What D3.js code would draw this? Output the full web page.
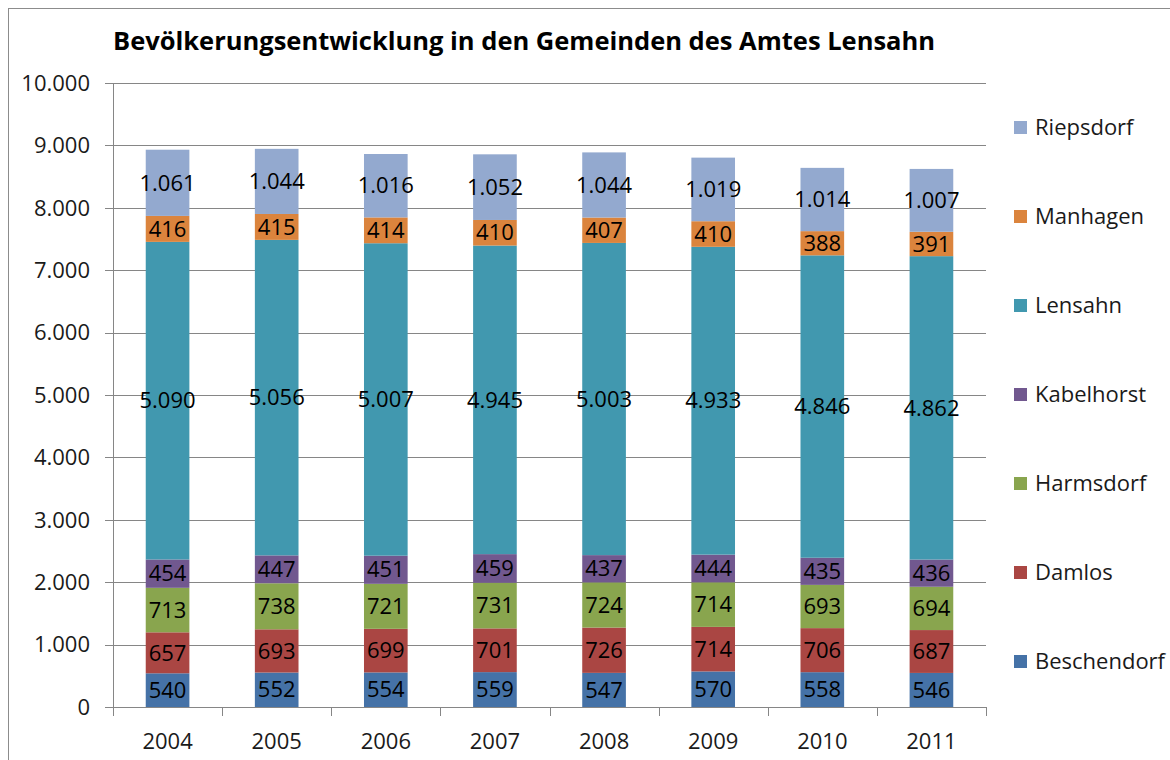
<!DOCTYPE html>
<html>
<head>
<meta charset="utf-8">
<script src="https://cdn.jsdelivr.net/npm/d3@7"></script>
<style>
	body { margin: 0; background: #fff; }
	svg { display: block; font-family: 'Open Sans', 'Noto Sans', sans-serif; }
</style>
</head>
<body>
<svg id="chart" width="1170" height="760"></svg>
<script>
// values
const years = ['2004', '2005', '2006', '2007', '2008', '2009', '2010', '2011']
const beschendorf = [540, 552, 554, 559, 547, 570, 558, 546]
const damlos = [657, 693, 699, 701, 726, 714, 706, 687]
const harmsdorf = [713, 738, 721, 731, 724, 714, 693, 694]
const kabelhorst = [454, 447, 451, 459, 437, 444, 435, 436]
const lensahn = [5090, 5056, 5007, 4945, 5003, 4933, 4846, 4862]
const manhagen = [416, 415, 414, 410, 407, 410, 388, 391]
const riepsdorf = [1061, 1044, 1016, 1052, 1044, 1019, 1014, 1007]
const yTicks = [0, 1000, 2000, 3000, 4000, 5000, 6000, 7000, 8000, 9000, 10000]

const series = [
	{name: 'Beschendorf', values: beschendorf, color: '#4572a7'},
	{name: 'Damlos', values: damlos, color: '#aa4643'},
	{name: 'Harmsdorf', values: harmsdorf, color: '#89a54e'},
	{name: 'Kabelhorst', values: kabelhorst, color: '#71588f'},
	{name: 'Lensahn', values: lensahn, color: '#4198af'},
	{name: 'Manhagen', values: manhagen, color: '#db843d'},
	{name: 'Riepsdorf', values: riepsdorf, color: '#93a9cf'}
]

const fmt = d3.formatLocale({decimal: ',', thousands: '.', grouping: [3], currency: ['', '€']}).format(',d')

const svg = d3.select('#chart')
const plot = {left: 113, right: 986, top: 83, bottom: 707}
const fontSize = 22

// chart frame
svg.append('rect')
	.attr('x', 8.5).attr('y', 8.5)
	.attr('width', 1200).attr('height', 800)
	.attr('fill', 'none').attr('stroke', '#8c8c8c')

svg.append('text')
	.attr('x', 113).attr('y', 50)
	.attr('font-size', 25.5).attr('font-weight', 'bold')
	.text('Bevölkerungsentwicklung in den Gemeinden des Amtes Lensahn')

const x = d3.scaleBand().domain(years).range([plot.left, plot.right]).paddingInner(0.6).paddingOuter(0.3)
const y = d3.scaleLinear().domain([0, 10000]).range([plot.bottom, plot.top])

// gridlines
svg.append('g')
	.selectAll('line')
	.data(yTicks)
	.join('line')
	.attr('x1', plot.left - 8).attr('x2', plot.right)
	.attr('y1', d => Math.round(y(d)) + 0.5)
	.attr('y2', d => Math.round(y(d)) + 0.5)
	.attr('stroke', '#868686')

svg.append('g')
	.selectAll('text')
	.data(yTicks)
	.join('text')
	.attr('x', 90).attr('y', d => y(d))
	.attr('dy', '0.35em')
	.attr('text-anchor', 'end')
	.attr('font-size', fontSize)
	.attr('fill', '#1a1a1a')
	.text(d => fmt(d))

const stack = d3.stack()
	.keys(series.map(s => s.name))
	.value((i, key) => series.find(s => s.name === key).values[i])
const layers = stack(d3.range(years.length))

const groups = svg.append('g')
	.selectAll('g')
	.data(layers)
	.join('g')
	.attr('fill', (d, i) => series[i].color)

groups.selectAll('rect')
	.data(d => d)
	.join('rect')
	.attr('x', d => x(years[d.data]))
	.attr('width', x.bandwidth())
	.attr('y', d => y(d[1]))
	.attr('height', d => y(d[0]) - y(d[1]))

groups.selectAll('text')
	.data(d => d)
	.join('text')
	.attr('x', d => x(years[d.data]) + x.bandwidth() / 2)
	.attr('y', d => y((d[0] + d[1]) / 2))
	.attr('dy', '0.35em')
	.attr('text-anchor', 'middle')
	.attr('font-size', fontSize)
	.attr('fill', '#000')
	.text(d => fmt(d[1] - d[0]))

// axes
svg.append('line')
	.attr('x1', plot.left + 0.5).attr('x2', plot.left + 0.5)
	.attr('y1', plot.top).attr('y2', plot.bottom)
	.attr('stroke', '#868686')

const step = (plot.right - plot.left) / years.length
svg.append('g')
	.selectAll('line')
	.data(d3.range(years.length + 1))
	.join('line')
	.attr('x1', i => Math.round(plot.left + i * step) + 0.5)
	.attr('x2', i => Math.round(plot.left + i * step) + 0.5)
	.attr('y1', plot.bottom).attr('y2', plot.bottom + 9)
	.attr('stroke', '#868686')

svg.append('g')
	.selectAll('text')
	.data(years)
	.join('text')
	.attr('x', d => x(d) + x.bandwidth() / 2)
	.attr('y', 741)
	.attr('dy', '0.35em')
	.attr('text-anchor', 'middle')
	.attr('font-size', fontSize)
	.attr('fill', '#1a1a1a')
	.text(d => d)

// legend, top item is the last series
const legend = svg.append('g')
	.selectAll('g')
	.data(series.slice().reverse())
	.join('g')
	.attr('transform', (d, i) => `translate(1014, ${127 + i * 89})`)

legend.append('rect')
	.attr('y', -6).attr('width', 13).attr('height', 13)
	.attr('fill', d => d.color)

legend.append('text')
	.attr('x', 21).attr('dy', '0.35em')
	.attr('font-size', fontSize)
	.attr('fill', '#1a1a1a')
	.text(d => d.name)
</script>
</body>
</html>
